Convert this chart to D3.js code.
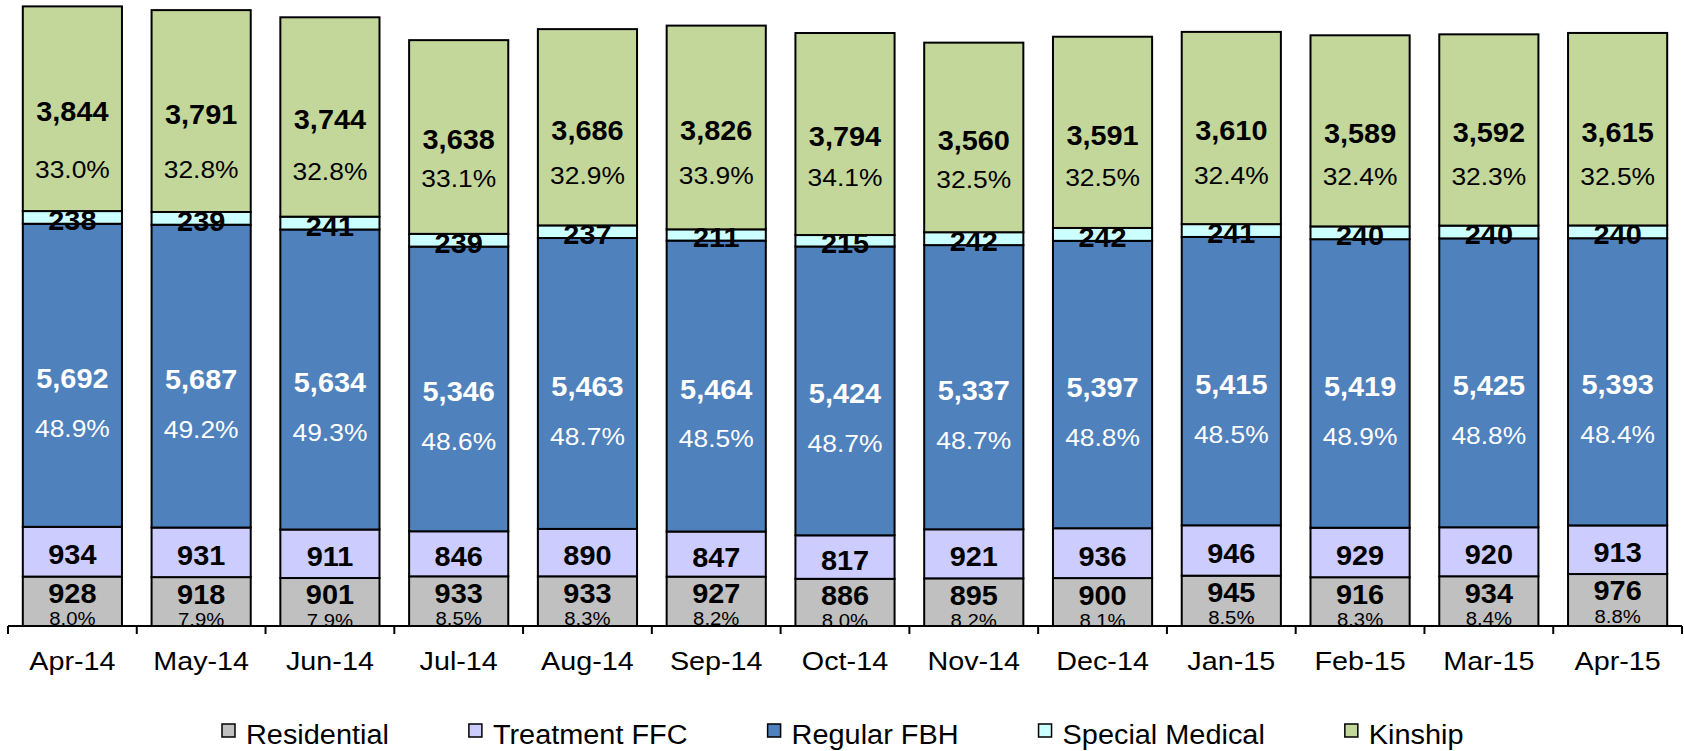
<!DOCTYPE html>
<html>
<head>
<meta charset="utf-8">
<script src="https://cdn.jsdelivr.net/npm/d3@7"></script>
<style>
  body { margin: 0; background: #fff; }
  text { font-family: "Liberation Sans", Arial, sans-serif; }
</style>
</head>
<body>
<script>
// months on the x axis
const months = ['Apr-14', 'May-14', 'Jun-14', 'Jul-14', 'Aug-14', 'Sep-14', 'Oct-14',
                'Nov-14', 'Dec-14', 'Jan-15', 'Feb-15', 'Mar-15', 'Apr-15'];

// placement counts per type, bottom to top
const residential    = [928, 918, 901, 933, 933, 927, 886, 895, 900, 945, 916, 934, 976];
const treatmentFFC   = [934, 931, 911, 846, 890, 847, 817, 921, 936, 946, 929, 920, 913];
const regularFBH     = [5692, 5687, 5634, 5346, 5463, 5464, 5424, 5337, 5397, 5415, 5419, 5425, 5393];
const specialMedical = [238, 239, 241, 239, 237, 211, 215, 242, 242, 241, 240, 240, 240];
const kinship        = [3844, 3791, 3744, 3638, 3686, 3826, 3794, 3560, 3591, 3610, 3589, 3592, 3615];

const seriesNames = ['Residential', 'Treatment FFC', 'Regular FBH', 'Special Medical', 'Kinship'];
const seriesColors = ['#C0C0C0', '#CCCCFF', '#4F81BD', '#CCFFFF', '#C4D79B'];

const width = 1684;
const height = 751;
const axisY = 626;

// build rows for d3.stack
const rows = months.map(function(m, i) {
  return {
    month: m,
    'Residential': residential[i],
    'Treatment FFC': treatmentFFC[i],
    'Regular FBH': regularFBH[i],
    'Special Medical': specialMedical[i],
    'Kinship': kinship[i]
  };
});
rows.forEach(function(r) {
  r.total = seriesNames.reduce((s, k) => s + r[k], 0);
});

const stacked = d3.stack().keys(seriesNames)(rows);

const xScale = d3.scaleBand()
                 .domain(months)
                 .range([8, 1682])
                 .paddingInner(0.23)
                 .paddingOuter(0.115);

const yScale = d3.scaleLinear()
                 .domain([0, 12000])
                 .range([axisY, -13]);

const svg = d3.select('body')
              .append('svg')
              .attr('width', width)
              .attr('height', height);

svg.append('defs').append('clipPath')
   .attr('id', 'plotClip')
   .append('rect')
   .attr('x', 0).attr('y', -50)
   .attr('width', width).attr('height', axisY - 1 + 50);

// bars
svg.append('g')
   .selectAll('g')
   .data(stacked)
   .join('g')
   .attr('fill', (d, i) => seriesColors[i])
   .selectAll('rect')
   .data(d => d)
   .join('rect')
   .attr('x', d => xScale(d.data.month))
   .attr('y', d => yScale(d[1]))
   .attr('height', d => yScale(d[0]) - yScale(d[1]))
   .attr('width', xScale.bandwidth())
   .attr('stroke', '#000')
   .attr('stroke-width', 2);

// helper for horizontally stretched text (the original rendering is wide)
function label(g, x, y, txt, size, weight, color, sx) {
  g.append('text')
   .attr('transform', `translate(${x},${y}) scale(${sx},1)`)
   .attr('text-anchor', 'middle')
   .attr('dy', '0.35em')
   .attr('font-size', size)
   .attr('font-weight', weight)
   .attr('fill', color)
   .text(txt);
}

const fmt = d3.format(',');
const pct = d3.format('.1%');
const labels = svg.append('g').attr('clip-path', 'url(#plotClip)');

stacked.forEach(function(layer, si) {
  layer.forEach(function(d) {
    const cx = xScale(d.data.month) + xScale.bandwidth() / 2;
    const top = yScale(d[1]);
    const bottom = yScale(d[0]);
    const mid = (top + bottom) / 2;
    const v = d[1] - d[0];
    const share = pct(v / d.data.total);
    const name = seriesNames[si];
    if (name === 'Residential') {
      label(labels, cx, top + 17, fmt(v), 27, 'bold', '#000', 1.07);
      label(labels, cx, top + 42, share, 19, 'normal', '#000', 1.07);
    } else if (name === 'Treatment FFC') {
      label(labels, cx, mid + 3, fmt(v), 27, 'bold', '#000', 1.07);
    } else if (name === 'Regular FBH') {
      label(labels, cx, mid + 3, fmt(v), 27, 'bold', '#fff', 1.07);
      label(labels, cx, mid + 53, share, 24, 'normal', '#fff', 1.1);
    } else if (name === 'Special Medical') {
      label(labels, cx, mid + 3, fmt(v), 27, 'bold', '#000', 1.07);
    } else {
      // kinship share labels sit in a narrow band below the counts
      label(labels, cx, mid + 3, fmt(v), 27, 'bold', '#000', 1.07);
      label(labels, cx, 0.35 * (mid + 3) + 130, share, 24, 'normal', '#000', 1.1);
    }
  });
});

// X axis
const step = xScale.step();
const edges = months.map(m => xScale(m) - step * xScale.paddingInner() / 2);
edges.push(xScale(months[months.length - 1]) + xScale.bandwidth() + step * xScale.paddingInner() / 2);

const axisG = svg.append('g');
axisG.append('line')
     .attr('x1', edges[0]).attr('x2', edges[edges.length - 1])
     .attr('y1', axisY).attr('y2', axisY)
     .attr('stroke', '#000').attr('stroke-width', 2);
axisG.selectAll('line.tick')
     .data(edges)
     .join('line')
     .attr('class', 'tick')
     .attr('x1', d => d).attr('x2', d => d)
     .attr('y1', axisY).attr('y2', axisY + 8)
     .attr('stroke', '#000').attr('stroke-width', 2);

months.forEach(function(m) {
  axisG.append('text')
       .attr('transform', `translate(${xScale(m) + xScale.bandwidth() / 2},670) scale(1.15,1)`)
       .attr('text-anchor', 'middle')
       .attr('font-size', 25)
       .attr('fill', '#000')
       .text(m);
});

// legend
const legend = svg.append('g');
let lx = 222;
seriesNames.forEach(function(name, i) {
  legend.append('rect')
        .attr('x', lx).attr('y', 724)
        .attr('width', 13).attr('height', 13)
        .attr('fill', seriesColors[i])
        .attr('stroke', '#000').attr('stroke-width', 1.5);
  const t = legend.append('text')
        .attr('transform', `translate(${lx + 24},744) scale(1.07,1)`)
        .attr('font-size', 27)
        .attr('fill', '#000')
        .text(name);
  const w = t.node().getComputedTextLength() * 1.07;
  lx += 24 + w + 80;
});
</script>
</body>
</html>
